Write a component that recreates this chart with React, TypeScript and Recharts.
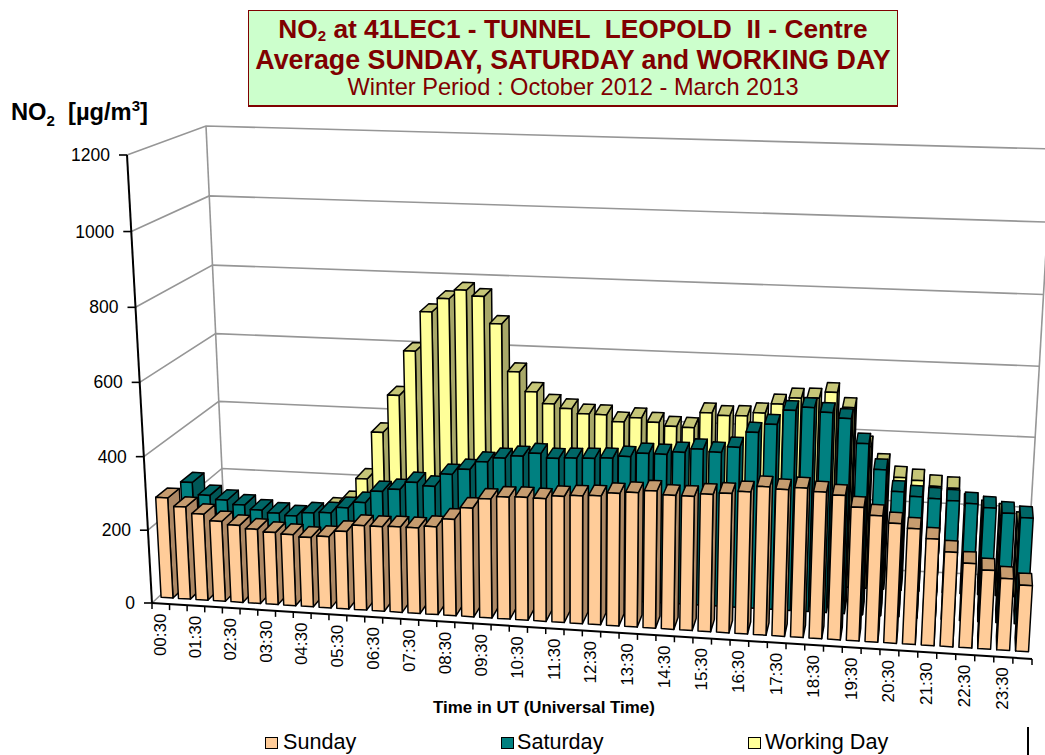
import React from "react";
import { BarChart, Bar, XAxis, YAxis, CartesianGrid } from "recharts";

const hours = ["00","01","02","03","04","05","06","07","08","09","10","11","12","13","14","15","16","17","18","19","20","21","22","23"];
const categories: string[] = hours.flatMap((h, i) => [`${h}:30`, `${hours[(i + 1) % 24]}:00`]);
const sunday = [276,254,237,220,212,204,198,195,190,195,212,231,231,233,233,239,262,295,322,330,332,331,340,344,347,356,361,368,359,359,367,372,379,395,390,397,389,383,354,335,317,306,282,250,223,208,189,174];
const saturday = [264,230,219,208,196,190,185,196,199,216,233,267,275,297,289,325,341,364,377,385,395,384,387,389,392,399,410,410,418,429,423,439,482,506,546,556,545,531,466,398,341,330,327,324,319,310,298,288];
const workingDay = [130,115,105,100,100,105,120,147,169,238,374,482,610,723,762,788,772,697,564,510,478,467,454,454,436,450,439,430,429,473,467,469,479,506,525,527,545,505,399,351,317,311,297,294,248,232,225,204];
const yTicks = [0, 200, 400, 600, 800, 1000, 1200];
const data = categories.map((time, i) => ({ time, sunday: sunday[i], saturday: saturday[i], workingDay: workingDay[i] }));

const W = 1045, H = 755;
const PL = 40, PT = 70, PW = 960, PH = 600;
const YMAX = 1200;

type Pt = [number, number];
const FB0: Pt = [152, 603], FB1: Pt = [1032, 659], BB0: Pt = [225, 535], BB1: Pt = [1027, 577];
const FT0: Pt = [127, 155], FT1: Pt = [1060, 189], BT0: Pt = [206, 126], BT1: Pt = [1052, 149];
const lerp = (a: number, b: number, t: number) => a + (b - a) * t;
const lp = (a: Pt, b: Pt, t: number): Pt => [lerp(a[0], b[0], t), lerp(a[1], b[1], t)];
const warpU = (u: number) => 0.956 * u + 0.044 * u * u;
const warpV = (v: number) => 0.97 * v + 0.03 * v * v;
function P(uRaw: number, w: number, vRaw: number): Pt {
  const u = warpU(uRaw), v = warpV(vRaw);
  const f = lp(lp(FB0, FB1, u), lp(FT0, FT1, u), v);
  const b = lp(lp(BB0, BB1, u), lp(BT0, BT1, u), v);
  return lp(f, b, w);
}
const pts = (...p: Pt[]) => p.map((q) => `${q[0].toFixed(1)},${q[1].toFixed(1)}`).join(" ");

const SLOT = 1 / 48;
const BAR_FRAC = 0.68;
const DEPTH = 0.16;

// groupIndex: position of the Bar in the recharts group; wStart: depth of its front face.
function box3D(groupIndex: number, wStart: number, front: string, top: string, side: string) {
  return (props: any) => {
    const { x, width, height } = props;
    const uc = (x - groupIndex * width + 1.5 * width - PL) / PW;
    const u0 = uc - (SLOT * BAR_FRAC) / 2, u1 = uc + (SLOT * BAR_FRAC) / 2;
    const v = height / PH;
    const w0 = wStart, w1 = w0 + DEPTH;
    const a = P(u0, w0, 0), b = P(u1, w0, 0), c = P(u1, w0, v), d = P(u0, w0, v);
    const e = P(u0, w1, 0), f = P(u1, w1, 0), g = P(u1, w1, v), h = P(u0, w1, v);
    const common = { stroke: "#000", strokeWidth: 1.5, strokeLinejoin: "round" as const };
    const rightVisible = f[0] >= b[0];
    return (
      <g>
        {rightVisible
          ? <polygon points={pts(b, f, g, c)} fill={side} {...common} />
          : <polygon points={pts(a, e, h, d)} fill={side} {...common} />}
        <polygon points={pts(d, c, g, h)} fill={top} {...common} />
        <polygon points={pts(a, b, c, d)} fill={front} {...common} />
      </g>
    );
  };
}

const GRID = "#969696";
function gridLine(props: any) {
  const v = (PT + PH - props.y1) / PH;
  const key = props.key ?? props.y1;
  const a = P(0, 0, v), b = P(0, 1, v), c = P(1, 1, v);
  const isTop = Math.abs(v - 1) < 1e-6, isFloor = Math.abs(v) < 1e-6;
  return (
    <g key={key}>
      <polyline points={pts(a, b, c)} fill="none" stroke={GRID} strokeWidth={1.6} />
      {isTop && <polyline points={pts(P(0, 1, 0), P(0, 1, 1))} fill="none" stroke={GRID} strokeWidth={1.6} />}
      {isTop && <polyline points={pts(P(1, 1, 0), P(1, 1, 1))} fill="none" stroke={GRID} strokeWidth={1.6} />}
      {isTop && <polyline points={pts(P(0, 0, 0), P(0, 0, 1))} fill="none" stroke="#000" strokeWidth={2} />}
      {isFloor && <polyline points={pts(P(0, 0, 0), P(1, 0, 0))} fill="none" stroke="#000" strokeWidth={2} />}
    </g>
  );
}

function XTick(props: any) {
  const { x, payload, index } = props;
  const uc = (x - PL) / PW;
  const u0 = uc - SLOT / 2;
  const a = P(u0, 0, 0);
  const c = P(uc, 0, 0);
  const last = index === categories.length - 1 ? P(uc + SLOT / 2, 0, 0) : null;
  return (
    <g>
      <line x1={a[0]} y1={a[1]} x2={a[0]} y2={a[1] + 6} stroke="#000" strokeWidth={1.5} />
      {last && <line x1={last[0]} y1={last[1]} x2={last[0]} y2={last[1] + 6} stroke="#000" strokeWidth={1.5} />}
      {index % 2 === 0 && (
        <text
          transform={`translate(${c[0] + 5},${c[1] + 10}) rotate(-90)`}
          textAnchor="end"
          fontFamily="Liberation Sans"
          fontSize={17}
          fill="#000"
        >
          {payload.value}
        </text>
      )}
    </g>
  );
}

function YTick(props: any) {
  const { payload } = props;
  const v = payload.value / YMAX;
  const a = P(0, 0, v);
  return (
    <g>
      <line x1={a[0] - 8} y1={a[1]} x2={a[0]} y2={a[1]} stroke="#000" strokeWidth={1.6} />
      <text x={a[0] - 17} y={a[1] + 6} textAnchor="end" fontFamily="Liberation Sans" fontSize={17.5} fill="#000">
        {payload.value}
      </text>
    </g>
  );
}

const abs = (left: number, top: number, extra: React.CSSProperties = {}): React.CSSProperties => ({
  position: "absolute", left, top, whiteSpace: "pre", fontFamily: "Liberation Sans", lineHeight: 1, ...extra,
});
const legendItems = [
  { name: "Sunday", color: "#FFCC99", sx: 265, tx: 283 },
  { name: "Saturday", color: "#008080", sx: 501, tx: 517 },
  { name: "Working Day", color: "#FFFF99", sx: 748, tx: 765 },
];

export default function App() {
  return (
    <div style={{ position: "absolute", left: 0, top: 0, width: W, height: H, overflow: "hidden", background: "#fff" }}>
      <div style={{ position: "absolute", left: 0, top: 0 }}>
        <BarChart
          width={W}
          height={H}
          data={data}
          margin={{ top: PT, right: W - PL - PW, bottom: 55, left: 0 }}
          barSize={6}
          barGap={0}
        >
          <CartesianGrid vertical={false} horizontal={gridLine} />
          <XAxis dataKey="time" interval={0} height={30} axisLine={false} tickLine={false} tick={(p: any) => <XTick {...p} />} />
          <YAxis width={PL} domain={[0, YMAX]} ticks={yTicks} axisLine={false} tickLine={false} tick={(p: any) => <YTick {...p} />} />
          <Bar dataKey="workingDay" name="Working Day" isAnimationActive={false} shape={box3D(0, 0.753, "#FFFF99", "#C6C678", "#A8A868")} />
          <Bar dataKey="saturday" name="Saturday" isAnimationActive={false} shape={box3D(1, 0.42, "#008080", "#006666", "#005858")} />
          <Bar dataKey="sunday" name="Sunday" isAnimationActive={false} shape={box3D(2, 0.087, "#FFCC99", "#C69C6F", "#AD8864")} />
        </BarChart>
      </div>

      <div style={{ position: "absolute", left: 248, top: 10, width: 648, height: 94, background: "#CCFFCC", border: "1px solid #800000", borderBottomWidth: 2 }} />
      <div style={abs(248, 16, { width: 650, textAlign: "center", fontSize: 26.3, fontWeight: 700, color: "#800000" })}>
        NO<span style={{ fontSize: 15, verticalAlign: "-3px", lineHeight: 0 }}>2</span>{" at 41LEC1 - TUNNEL  LEOPOLD  II - Centre"}
      </div>
      <div style={abs(248, 47, { width: 650, textAlign: "center", fontSize: 26.8, fontWeight: 700, color: "#800000" })}>
        Average SUNDAY, SATURDAY and WORKING DAY
      </div>
      <div style={abs(248, 76, { width: 650, textAlign: "center", fontSize: 23.6, color: "#800000" })}>
        Winter Period : October 2012 - March 2013
      </div>

      <div style={abs(11, 101, { fontSize: 23.7, fontWeight: 700, color: "#000" })}>
        NO<sub style={{ fontSize: 15, lineHeight: 0 }}>2</sub>{"  [µg/m"}<sup style={{ fontSize: 15, lineHeight: 0 }}>3</sup>{"]"}
      </div>
      <div style={abs(433, 700, { fontSize: 16.9, fontWeight: 700, color: "#000" })}>Time in UT (Universal Time)</div>

      {legendItems.map((l) => (
        <React.Fragment key={l.name}>
          <div style={{ position: "absolute", left: l.sx, top: 737, width: 11, height: 10, background: l.color, border: "1px solid #000" }} />
          <div style={abs(l.tx, 731, { fontSize: 21.6, color: "#000" })}>{l.name}</div>
        </React.Fragment>
      ))}
      <div style={{ position: "absolute", left: 1027, top: 727, width: 2, height: 28, background: "#000" }} />
    </div>
  );
}
